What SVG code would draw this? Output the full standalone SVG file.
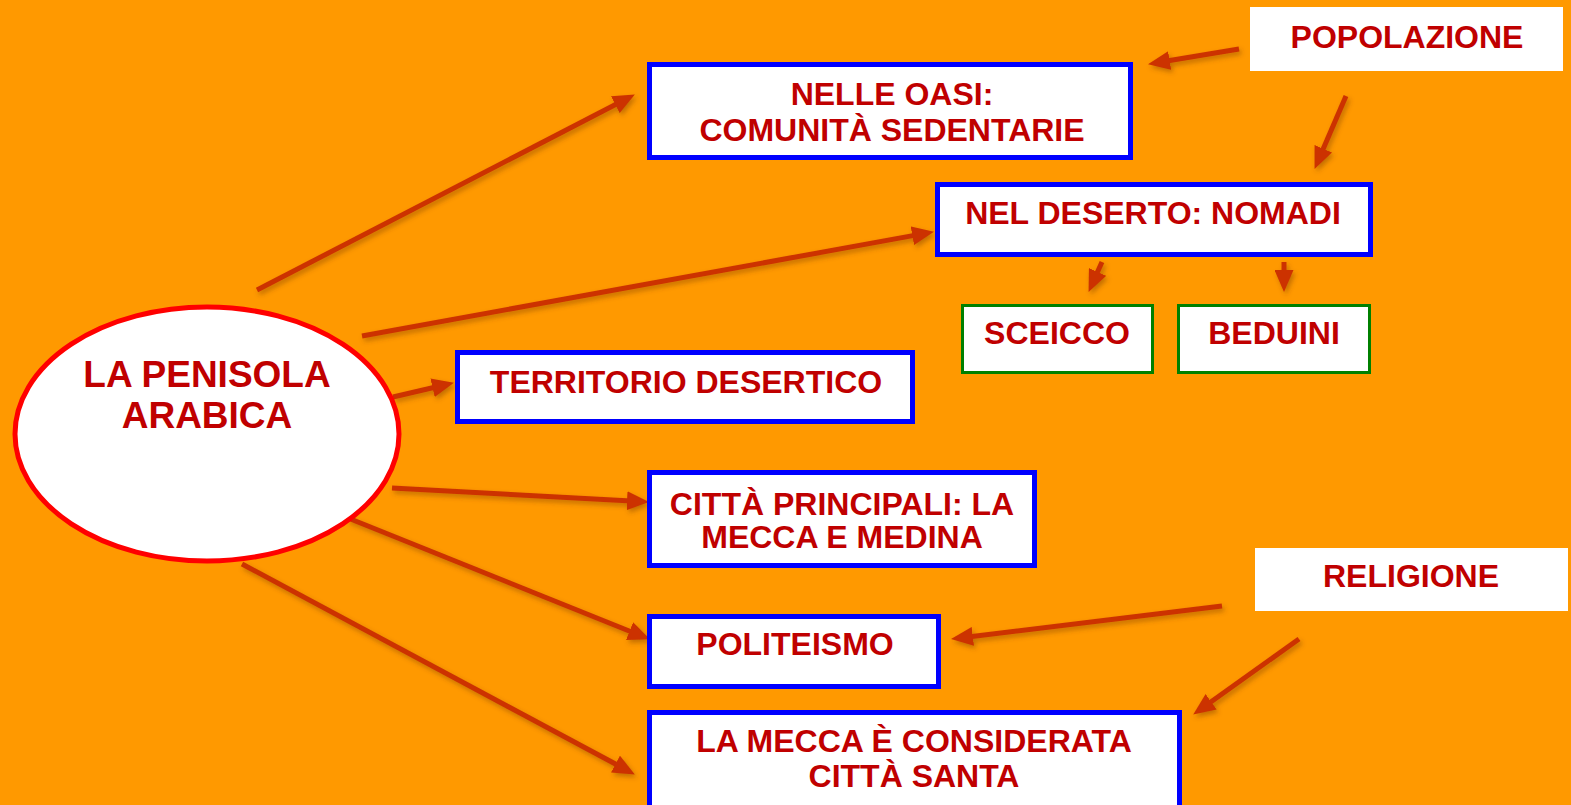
<svg xmlns="http://www.w3.org/2000/svg" width="1571" height="805" viewBox="0 0 1571 805">
<defs>
<style>
.t{font-family:"Liberation Sans",Arial,sans-serif;font-weight:bold;fill:#C00000;text-anchor:middle;font-size:32px}
.big{font-size:37px}
.blue{fill:#FFFFFF;stroke:#0000FF;stroke-width:5}
.green{fill:#FFFFFF;stroke:#008000;stroke-width:3}
.plain{fill:#FFFFFF}
.c{stroke:#CC3300;stroke-width:5;fill:none;marker-end:url(#ah)}
</style>
<marker id="ah" viewBox="0 0 22 19" refX="9" refY="9.5" markerWidth="22" markerHeight="19" markerUnits="userSpaceOnUse" orient="auto">
<path d="M0,0 L22,9.5 L0,19 Z" fill="#CC3300"/>
</marker>
<filter id="sh" x="-10%" y="-10%" width="120%" height="120%">
<feDropShadow dx="2" dy="3" stdDeviation="2.5" flood-color="#7a3a00" flood-opacity="0.45"/>
</filter>
</defs>
<rect x="0" y="0" width="1571" height="805" fill="#FF9900"/>

<g id="connectors" filter="url(#sh)">
<line class="c" x1="257" y1="290" x2="623.3" y2="100.5"/>
<line class="c" x1="362" y1="336" x2="921.2" y2="234.1"/>
<line class="c" x1="393" y1="397" x2="441.3" y2="385.7"/>
<line class="c" x1="392" y1="488" x2="636" y2="501.3"/>
<line class="c" x1="348" y1="518" x2="637.9" y2="634.5"/>
<line class="c" x1="242" y1="564" x2="623.4" y2="768.3"/>
<line class="c" x1="1239" y1="49" x2="1160.8" y2="62"/>
<line class="c" x1="1346" y1="96" x2="1319.7" y2="157"/>
<line class="c" x1="1102" y1="262" x2="1093.9" y2="280.1"/>
<line class="c" x1="1284" y1="262" x2="1284" y2="279"/>
<line class="c" x1="1222" y1="606" x2="963.9" y2="637.5"/>
<line class="c" x1="1299" y1="639" x2="1203.8" y2="707"/>
</g>

<g id="penisola">
<ellipse cx="207" cy="434" rx="192" ry="127" fill="#FFFFFF" stroke="#FF0000" stroke-width="5"/>
<text class="t big" x="207" y="387">LA PENISOLA</text>
<text class="t big" x="207" y="428">ARABICA</text>
</g>

<g id="oasi">
<rect class="blue" x="649.5" y="64.5" width="481" height="93"/>
<text class="t" x="892" y="105">NELLE OASI:</text>
<text class="t" x="892" y="141">COMUNITÀ SEDENTARIE</text>
</g>

<g id="deserto">
<rect class="blue" x="937.5" y="184.5" width="433" height="70"/>
<text class="t" x="1153" y="224">NEL DESERTO: NOMADI</text>
</g>

<g id="sceicco">
<rect class="green" x="962.5" y="305.5" width="190" height="67"/>
<text class="t" x="1057" y="344">SCEICCO</text>
</g>

<g id="beduini">
<rect class="green" x="1178.5" y="305.5" width="191" height="67"/>
<text class="t" x="1274" y="344">BEDUINI</text>
</g>

<g id="popolazione">
<rect class="plain" x="1250" y="7" width="313" height="64"/>
<text class="t" x="1407" y="48">POPOLAZIONE</text>
</g>

<g id="territorio">
<rect class="blue" x="457.5" y="352.5" width="455" height="69"/>
<text class="t" x="686" y="393">TERRITORIO DESERTICO</text>
</g>

<g id="citta">
<rect class="blue" x="649.5" y="472.5" width="385" height="93"/>
<text class="t" x="842" y="515">CITTÀ PRINCIPALI: LA</text>
<text class="t" x="842" y="548">MECCA E MEDINA</text>
</g>

<g id="politeismo">
<rect class="blue" x="649.5" y="616.5" width="289" height="70"/>
<text class="t" x="795" y="655">POLITEISMO</text>
</g>

<g id="mecca">
<rect class="blue" x="649.5" y="712.5" width="530" height="100"/>
<text class="t" x="914" y="752">LA MECCA È CONSIDERATA</text>
<text class="t" x="914" y="787">CITTÀ SANTA</text>
</g>

<g id="religione">
<rect class="plain" x="1255" y="548" width="313" height="63"/>
<text class="t" x="1411" y="587">RELIGIONE</text>
</g>
</svg>
